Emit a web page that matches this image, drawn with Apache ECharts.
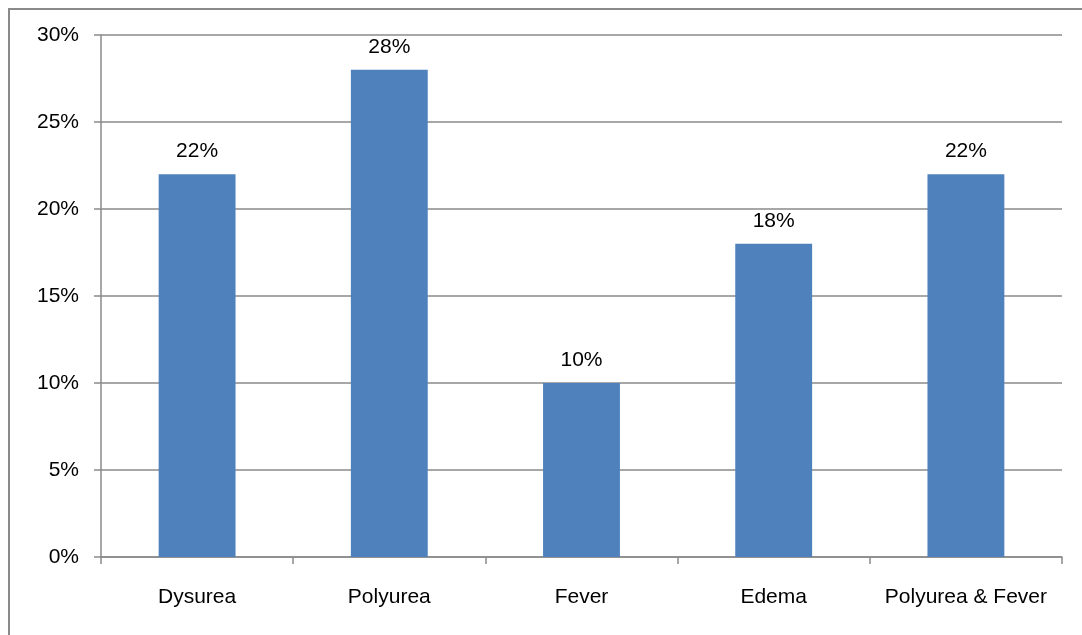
<!DOCTYPE html>
<html>
<head>
<meta charset="utf-8">
<script src="https://cdn.jsdelivr.net/npm/echarts@6/dist/echarts.min.js"></script>
<style>
html,body{margin:0;padding:0;background:#fff;}
#chart{width:1082px;height:635px;}
</style>
</head>
<body>
<div id="chart"></div>
<script>
// Symptom share by category
const categories = ['Dysurea', 'Polyurea', 'Fever', 'Edema', 'Polyurea & Fever'];
const values = [22, 28, 10, 18, 22];
const yTicks = [0, 5, 10, 15, 20, 25, 30];

const gray = '#8a8a8a';
const font = '"Liberation Sans", Arial, sans-serif';

const chart = echarts.init(document.getElementById('chart'));
chart.setOption({
  animation: false,
  backgroundColor: '#fff',
  graphic: [{
    type: 'rect',
    shape: { x: 9, y: 9, width: 1200, height: 800 },
    style: { fill: 'none', stroke: gray, lineWidth: 2 },
    silent: true,
    z: -1
  }],
  grid: { left: 101, right: 20, top: 35, bottom: 78 },
  xAxis: {
    type: 'category',
    data: categories,
    axisLine: { lineStyle: { color: gray, width: 1.5 } },
    axisTick: { show: true, length: 7, interval: 0, alignWithLabel: false, lineStyle: { color: gray, width: 1.5 } },
    axisLabel: { color: '#000', fontSize: 21, fontFamily: font, margin: 30, interval: 0 }
  },
  yAxis: {
    type: 'value',
    min: yTicks[0],
    max: yTicks[yTicks.length - 1],
    interval: 5,
    axisLine: { show: true, lineStyle: { color: gray, width: 1.5 } },
    axisTick: { show: true, length: 7, lineStyle: { color: gray, width: 1.5 } },
    splitLine: { lineStyle: { color: gray, width: 1.5 } },
    axisLabel: { color: '#000', fontSize: 21, fontFamily: font, margin: 22, formatter: '{value}%' }
  },
  series: [{
    type: 'bar',
    data: values,
    barWidth: '40%',
    itemStyle: { color: '#4F81BD' },
    label: {
      show: true,
      position: 'top',
      distance: 12,
      color: '#000',
      fontSize: 21,
      fontFamily: font,
      formatter: p => p.value + '%'
    }
  }]
});
</script>
</body>
</html>
